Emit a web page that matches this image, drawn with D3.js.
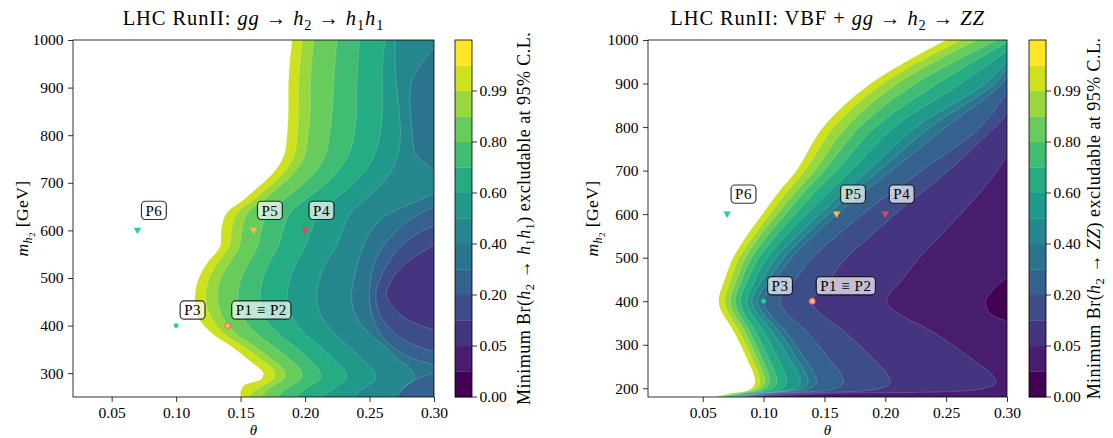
<!DOCTYPE html>
<html>
<head>
<meta charset="utf-8">
<script src="https://cdn.jsdelivr.net/npm/d3@7"></script>
<style>
  body { margin: 0; background: #fff; }
  svg text { font-family: "Liberation Serif", "DejaVu Serif", serif; fill: #000; }
</style>
</head>
<body>
<svg id="fig" width="1113" height="438"></svg>
<script>
// ---------- axis ticks ----------
const thetaTicks = [0.05, 0.10, 0.15, 0.20, 0.25, 0.30];
const massTicksLeft = [300, 400, 500, 600, 700, 800, 900, 1000];
const massTicksRight = [200, 300, 400, 500, 600, 700, 800, 900, 1000];
const cbarTickLabels = ["0.00", "0.05", "0.20", "0.40", "0.60", "0.80", "0.99"];
const cbarBandCount = 14;

// ---------- benchmark points ----------
const pointNames = ["P1 \u2261 P2", "P3", "P4", "P5", "P6"];
const pointTheta = [0.14, 0.10, 0.20, 0.16, 0.07];
const pointMass = [400, 400, 600, 600, 600];
const pointShape = ["circle", "circle", "tri", "tri", "tri"];
const pointFill = ["#fdb865", "#1ed3a2", "#ec3d5e", "#fbb94b", "#1ed3a2"];
const pointEdge = ["#f2606a", "#1ed3a2", "#ec3d5e", "#fbb94b", "#1ed3a2"];

// ---------- gg -> h2 -> h1h1 : contour lines [theta, m_h2] ----------
const leftA = [[.150,250],[.150,262],[.153,275],[.166,288],[.1676,300],[.156,328],[.143,356],[.131,377],[.120,405],[.116,426],[.1146,461],[.117,496],[.124,531],[.134,566],[.135,601],[.139,636],[.152,664],[.161,685],[.170,706],[.178,730],[.184,760],[.186,800],[.187,850],[.187,900],[.188,950],[.190,1000]];
const leftB = [[.157,250],[.160,262],[.168,275],[.176,290],[.176,305],[.165,330],[.152,356],[.140,377],[.130,405],[.125,430],[.123,461],[.125,496],[.132,531],[.141,566],[.143,601],[.147,636],[.160,664],[.169,685],[.178,706],[.186,730],[.192,760],[.194,800],[.195,850],[.195,900],[.196,950],[.198,1000]];
const leftC = [[.166,250],[.170,262],[.176,275],[.184,290],[.184,305],[.174,330],[.161,356],[.149,377],[.139,405],[.134,430],[.132,461],[.134,496],[.141,531],[.149,566],[.151,601],[.155,636],[.168,664],[.177,685],[.186,706],[.194,730],[.200,760],[.202,800],[.204,850],[.204,900],[.205,950],[.207,1000]];
const leftD = [[.179,250],[.183,262],[.190,275],[.197,290],[.197,305],[.188,330],[.176,356],[.165,377],[.155,405],[.150,430],[.148,461],[.150,496],[.156,531],[.163,566],[.166,601],[.171,636],[.183,664],[.193,685],[.202,706],[.210,730],[.216,760],[.219,800],[.221,850],[.222,900],[.223,950],[.225,1000]];
const leftE = [[.1935,250],[.198,262],[.205,275],[.212,290],[.211,305],[.203,330],[.192,356],[.182,377],[.172,405],[.167,430],[.165,461],[.167,496],[.172,531],[.179,566],[.183,601],[.188,636],[.200,664],[.210,685],[.219,706],[.227,730],[.234,760],[.238,800],[.240,850],[.240,900],[.241,950],[.242,1000]];
const leftF = [[.214,250],[.219,262],[.226,275],[.232,290],[.231,305],[.222,330],[.212,356],[.202,377],[.193,405],[.188,430],[.186,461],[.188,496],[.193,531],[.200,566],[.205,601],[.211,636],[.222,664],[.232,685],[.240,706],[.248,730],[.254,760],[.258,800],[.260,850],[.260,900],[.260,950],[.262,1000]];
const leftG = [[.237,250],[.242,262],[.249,275],[.255,290],[.253,305],[.244,330],[.234,356],[.225,377],[.216,405],[.211,430],[.209,461],[.211,496],[.216,531],[.224,566],[.229,601],[.235,636],[.246,664],[.255,685],[.262,706],[.268,730],[.272,760],[.274,800],[.273,850],[.271,900],[.270,950],[.270,1000]];
const leftH = [[.268,250],[.273,262],[.279,275],[.285,290],[.283,305],[.272,330],[.262,356],[.252,377],[.243,405],[.238,430],[.236,461],[.238,500],[.245,566],[.258,622],[.283,657],[.300,678]];
const leftH2 = [[.300,727],[.286,760],[.283,811],[.283,916],[.300,985]];
const leftI = [[.300,318],[.280,335],[.262,370],[.252,420],[.250,470],[.255,540],[.275,610],[.300,650]];
const leftJ = [[.300,345],[.280,365],[.265,395],[.257,430],[.255,470],[.262,520],[.272,560],[.285,590],[.300,610]];
const leftK = [[.300,391],[.290,400],[.278,415],[.268,440],[.263,465],[.266,490],[.272,515],[.285,545],[.300,569]];
const leftCorner = [[.272,250],[.275,265],[.285,285],[.300,300]];
const leftContours = [leftA, leftB, leftC, leftD, leftE, leftF, leftG, leftH, leftH2, leftCorner, leftI, leftJ, leftK];
const leftBands = [12, 11, 10, 9, 8, 7, 6, 5, 5, 4, 4, 3, 2];

// ---------- VBF + gg -> h2 -> ZZ : contour lines [theta, m_h2] ----------
const rightA = [[.055,180],[.068,183],[.081,189],[.090,200],[.093,213],[.0915,235],[.0876,260],[.081,300],[.0735,340],[.0666,370],[.063,400],[.068,450],[.075,500],[.086,550],[.099,600],[.112,650],[.127,700],[.149,800],[.188,900],[.250,1000]];
const rightB = [[.060,180],[.073,188],[.094,200],[.097,213],[.0956,235],[.0918,260],[.0854,300],[.0782,340],[.0715,370],[.068,400],[.073,450],[.080,500],[.092,550],[.105,600],[.119,650],[.134,700],[.158,800],[.198,900],[.262,1000]];
const rightC = [[.064,180],[.077,188],[.097,200],[.101,213],[.0996,235],[.0959,260],[.0896,300],[.0825,340],[.0759,370],[.0725,400],[.078,450],[.085,500],[.097,550],[.111,600],[.126,650],[.142,700],[.168,800],[.210,900],[.275,1000]];
const rightD = [[.067,180],[.080,188],[.101,200],[.105,213],[.1036,235],[.0999,260],[.0936,300],[.0865,340],[.0800,370],[.0766,400],[.082,450],[.090,500],[.103,550],[.118,600],[.133,650],[.150,700],[.179,800],[.225,900],[.292,1000]];
const rightE = [[.070,180],[.084,188],[.107,200],[.111,213],[.1095,235],[.1055,260],[.0989,300],[.0913,340],[.0843,370],[.0807,400],[.087,450],[.096,500],[.110,550],[.126,600],[.142,650],[.160,700],[.192,800],[.243,900],[.300,995]];
const rightF = [[.072,180],[.088,188],[.115,200],[.119,213],[.1174,235],[.1131,260],[.1059,300],[.0977,340],[.0901,370],[.0862,400],[.093,450],[.103,500],[.118,550],[.135,600],[.153,650],[.172,700],[.207,800],[.262,900],[.300,975]];
const rightG = [[.074,180],[.094,188],[.125,200],[.130,213],[.1280,235],[.1229,260],[.1141,300],[.1042,340],[.0951,370],[.0903,400],[.099,450],[.110,500],[.127,550],[.146,600],[.165,650],[.186,700],[.225,800],[.282,900],[.300,950]];
const rightG2 = [[.075,180],[.097,188],[.131,200],[.1365,213],[.1345,235],[.129,260],[.120,300],[.110,340],[.100,370],[.095,400],[.1045,450],[.1165,500],[.134,550],[.153,600],[.173,650],[.195,700],[.237,800],[.290,900],[.300,935]];
const rightH = [[.076,180],[.100,188],[.138,200],[.1436,213],[.1414,235],[.1357,260],[.1261,300],[.1152,340],[.1051,370],[.0999,400],[.110,450],[.123,500],[.141,550],[.160,600],[.182,650],[.205,700],[.250,800],[.296,900],[.300,920]];
const rightI = [[.078,180],[.109,188],[.159,200],[.1655,213],[.1629,235],[.1561,260],[.1447,300],[.1317,340],[.1197,370],[.1135,400],[.126,450],[.140,500],[.160,550],[.181,600],[.205,650],[.230,700],[.278,800],[.300,880]];
const rightJ = [[.080,180],[.123,188],[.196,200],[.204,213],[.2008,235],[.1924,260],[.1782,300],[.1621,340],[.1472,370],[.1395,400],[.154,450],[.168,500],[.188,550],[.208,600],[.230,650],[.252,700],[.290,800],[.300,830]];
const rightK = [[.082,180],[.155,188],[.282,200],[.291,213],[.2865,235],[.2748,260],[.255,300],[.2325,340],[.2118,370],[.201,400],[.214,450],[.228,500],[.245,550],[.262,600],[.278,650],[.292,700],[.300,735]];
const rightL = [[.300,355],[.292,362],[.285,375],[.2825,400],[.290,430],[.300,455]];
const rightContours = [rightA, rightB, rightC, rightD, rightE, rightF, rightG, rightG2, rightH, rightI, rightJ, rightK, rightL];
const rightBands = [12, 11, 10, 9, 8, 7, 6, 5, 4, 3, 2, 1, 0];

// ---------- drawing ----------
const svg = d3.select("#fig");
const bandColor = k => d3.interpolateViridis(k / (cbarBandCount - 1));
const TICK_FS = 15.5;

// text made of roman / italic / subscript pieces
function richText(parent, parts, size) {
  const t = parent.append("text").attr("font-size", size);
  let shift = 0;
  parts.forEach(([s, k]) => {
    const ts = t.append("tspan").text(s);
    let target = 0, fs = size;
    if (k === "i") ts.attr("font-style", "italic");
    if (k === "s" || k === "si") { target = 0.24 * size; fs = 0.7 * size; }
    if (k === "si") ts.attr("font-style", "italic");
    if (k === "ss") { target = 0.42 * size; fs = 0.52 * size; }
    ts.attr("font-size", fs).attr("dy", target - shift);
    shift = target;
  });
  return t;
}

function drawPanel(cfg) {
  const g = svg.append("g");
  const x = d3.scaleLinear().domain(cfg.xDomain).range([cfg.left, cfg.right]);
  const y = d3.scaleLinear().domain(cfg.yDomain).range([cfg.bottom, cfg.top]);
  const clipId = "clip-" + cfg.id;
  svg.append("clipPath").attr("id", clipId).append("rect")
    .attr("x", cfg.left).attr("y", cfg.top)
    .attr("width", cfg.right - cfg.left).attr("height", cfg.bottom - cfg.top);

  const area = g.append("g").attr("clip-path", `url(#${clipId})`);
  const xMax = cfg.xDomain[1];
  const line = d3.line().x(d => x(d[0])).y(d => y(d[1])).curve(d3.curveCatmullRom.alpha(0.5));

  // filled bands: each region lies on the large-theta side of its contour
  cfg.contours.forEach((pts, i) => {
    const first = pts[0], last = pts[pts.length - 1];
    const d = line(pts) + `L${x(xMax) + 2},${y(last[1])}L${x(xMax) + 2},${y(first[1])}Z`;
    area.append("path").attr("d", d).attr("fill", bandColor(cfg.bands[i]));
  });
  // faint seams along contour lines
  cfg.contours.forEach(pts => {
    area.append("path").attr("d", line(pts)).attr("fill", "none")
      .attr("stroke", "rgba(255,255,255,0.28)").attr("stroke-width", 0.6);
  });

  // frame
  g.append("rect").attr("x", cfg.left).attr("y", cfg.top)
    .attr("width", cfg.right - cfg.left).attr("height", cfg.bottom - cfg.top)
    .attr("fill", "none").attr("stroke", "#000").attr("stroke-width", 0.8);

  // axes
  const ax = g.append("g").attr("transform", `translate(0,${cfg.bottom})`)
    .call(d3.axisBottom(x).tickValues(thetaTicks).tickFormat(d3.format(".2f")).tickSize(5).tickPadding(5));
  const ay = g.append("g").attr("transform", `translate(${cfg.left},0)`)
    .call(d3.axisLeft(y).tickValues(cfg.massTicks).tickFormat(d3.format("d")).tickSize(5).tickPadding(4.5));
  [ax, ay].forEach(a => {
    a.select(".domain").remove();
    a.selectAll("line").attr("stroke", "#000").attr("stroke-width", 0.8);
    a.selectAll("text").attr("font-size", TICK_FS).attr("font-family", null).attr("fill", "#000");
  });

  // title and axis labels
  const cx = (cfg.left + cfg.right) / 2, cy = (cfg.top + cfg.bottom) / 2;
  richText(g, cfg.title, 20.5).attr("x", cx).attr("y", 25).attr("text-anchor", "middle")
    .attr("letter-spacing", 0.9);
  richText(g, [["\u03b8", "i"]], 15).attr("x", cx).attr("y", 434.5).attr("text-anchor", "middle");
  richText(g, [["m", "i"], ["h", "si"], ["2", "ss"], [" [GeV]", "r"]], 17.5)
    .attr("text-anchor", "middle").attr("letter-spacing", 0.4)
    .attr("transform", `translate(${cfg.ylabelX},${cy}) rotate(-90)`);

  // benchmark points with labelled boxes
  const marks = g.append("g");
  pointNames.forEach((name, i) => {
    const px = x(pointTheta[i]), py = y(pointMass[i]);
    if (pointShape[i] === "tri") {
      marks.append("path").attr("d", d3.symbol(d3.symbolTriangle, 24)())
        .attr("transform", `translate(${px},${py - 0.5}) rotate(180)`)
        .attr("fill", pointFill[i]);
    } else {
      marks.append("circle").attr("cx", px).attr("cy", py)
        .attr("r", i === 0 ? 2.9 : 2.4)
        .attr("fill", pointFill[i]).attr("stroke", pointEdge[i]).attr("stroke-width", i === 0 ? 1 : 0);
    }
    const fs = 15, pad = 4;
    const lift = pointShape[i] === "tri" ? 20 : 15.5;
    const baseline = py - lift + 0.34 * fs;
    const tx = px + 8;
    const box = marks.append("rect");
    const t = marks.append("text").attr("x", tx).attr("y", baseline).attr("font-size", fs)
      .attr("letter-spacing", 0.5).text(name);
    const w = t.node().getComputedTextLength();
    box.attr("x", tx - pad).attr("y", baseline - 0.683 * fs - pad)
      .attr("width", w + 2 * pad).attr("height", 0.683 * fs + 2 * pad)
      .attr("rx", pad).attr("ry", pad)
      .attr("fill", "rgba(255,255,255,0.68)")
      .attr("stroke", "rgba(0,0,0,0.8)").attr("stroke-width", 1.2);
  });

  // colour bar
  const cb = g.append("g");
  const cbY = d3.scaleLinear().domain([0, cbarBandCount]).range([cfg.bottom, cfg.top]);
  d3.range(cbarBandCount).forEach(k => {
    cb.append("rect").attr("x", cfg.cbLeft).attr("y", cbY(k + 1))
      .attr("width", cfg.cbWidth).attr("height", cbY(k) - cbY(k + 1) + 0.3)
      .attr("fill", bandColor(k));
  });
  cb.append("rect").attr("x", cfg.cbLeft).attr("y", cfg.top)
    .attr("width", cfg.cbWidth).attr("height", cfg.bottom - cfg.top)
    .attr("fill", "none").attr("stroke", "#000").attr("stroke-width", 0.8);
  cbarTickLabels.forEach((lab, j) => {
    const yy = cbY(2 * j);
    const xr = cfg.cbLeft + cfg.cbWidth;
    cb.append("line").attr("x1", xr).attr("x2", xr + 5).attr("y1", yy).attr("y2", yy)
      .attr("stroke", "#000").attr("stroke-width", 0.8);
    cb.append("text").attr("x", xr + 7.5).attr("y", yy).attr("dy", "0.34em")
      .attr("font-size", TICK_FS).text(lab);
  });
  richText(cb, cfg.cbLabel, 18).attr("text-anchor", "middle").attr("letter-spacing", 0.45)
    .attr("transform", `translate(${cfg.cbLabelX},${cy}) rotate(-90)`);
}

drawPanel({
  id: "hh", left: 73, right: 434, top: 40, bottom: 397,
  xDomain: [0.02, 0.30], yDomain: [250, 1000], massTicks: massTicksLeft,
  contours: leftContours, bands: leftBands,
  title: [["LHC RunII: ", "r"], ["gg", "i"], [" \u2192 ", "r"], ["h", "i"], ["2", "s"], [" \u2192 ", "r"], ["h", "i"], ["1", "s"], ["h", "i"], ["1", "s"]],
  ylabelX: 28, cbLeft: 455, cbWidth: 17, cbLabelX: 530,
  cbLabel: [["Minimum Br(", "r"], ["h", "i"], ["2", "s"], [" \u2192 ", "r"], ["h", "i"], ["1", "s"], ["h", "i"], ["1", "s"], [") excludable at 95% C.L.", "r"]]
});

drawPanel({
  id: "zz", left: 648, right: 1007, top: 40, bottom: 397,
  xDomain: [0.005, 0.30], yDomain: [180, 1000], massTicks: massTicksRight,
  contours: rightContours, bands: rightBands,
  title: [["LHC RunII: VBF + ", "r"], ["gg", "i"], [" \u2192 ", "r"], ["h", "i"], ["2", "s"], [" \u2192 ", "r"], ["ZZ", "i"]],
  ylabelX: 598, cbLeft: 1029, cbWidth: 17, cbLabelX: 1100,
  cbLabel: [["Minimum Br(", "r"], ["h", "i"], ["2", "s"], [" \u2192 ", "r"], ["ZZ", "i"], [") excludable at 95% C.L.", "r"]]
});
</script>
</body>
</html>
